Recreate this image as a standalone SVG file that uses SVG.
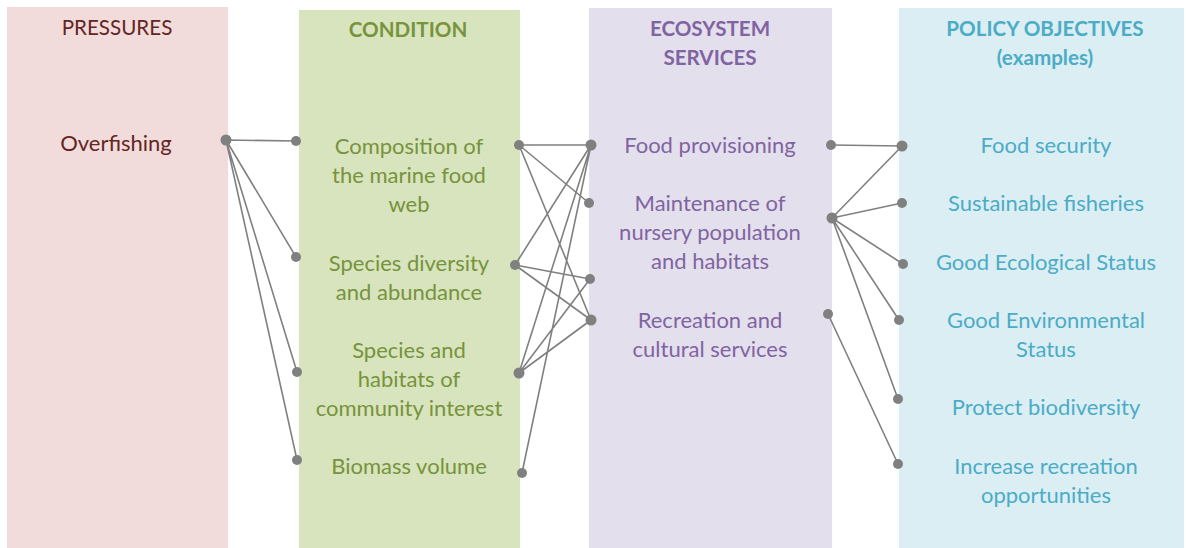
<svg xmlns="http://www.w3.org/2000/svg" width="1186" height="548" viewBox="0 0 1186 548">
<style>
text{font-family:Lato,"Open Sans","Liberation Sans",sans-serif;font-size:22px;text-anchor:middle}
.h{font-size:20.6px}
.b{font-weight:bold}
.pr{fill:#632523}.co{fill:#77933c}.es{fill:#8064a2}.po{fill:#4bacc6}
.ln{stroke:#808080;stroke-width:1.6;fill:none}
.d{fill:#808080}
</style>
<rect width="1186" height="548" fill="#ffffff"/>
<g id="col-pressures"><rect x="7" y="7" width="221" height="541" fill="#f2dcdb"/><text class="pr h" x="117" y="35">PRESSURES</text></g>
<g id="col-condition"><rect x="299" y="10" width="221" height="538" fill="#d7e4bd"/><text class="co b h" x="408" y="37">CONDITION</text></g>
<g id="col-services"><rect x="589" y="8" width="243" height="540" fill="#e4dfec"/><text class="es b h" x="710" y="36">ECOSYSTEM</text><text class="es b h" x="710" y="65">SERVICES</text></g>
<g id="col-policy"><rect x="899" y="8" width="285" height="540" fill="#dbeef4"/><text class="po b h" x="1045" y="36">POLICY OBJECTIVES</text><text class="po b h" x="1045" y="65">(examples)</text></g>
<g id="n-overfishing"><text class="pr" x="116" y="151">Overfishing</text></g>
<g id="n-composition"><text class="co" x="409" y="154">Composition of</text><text class="co" x="409" y="183">the marine food</text><text class="co" x="409" y="212">web</text></g>
<g id="n-diversity"><text class="co" x="409" y="271">Species diversity</text><text class="co" x="409" y="300">and abundance</text></g>
<g id="n-habitats"><text class="co" x="409" y="358">Species and</text><text class="co" x="409" y="387">habitats of</text><text class="co" x="409" y="416">community interest</text></g>
<g id="n-biomass"><text class="co" x="409" y="474">Biomass volume</text></g>
<g id="n-food"><text class="es" x="710" y="153">Food provisioning</text></g>
<g id="n-nursery"><text class="es" x="710" y="211">Maintenance of</text><text class="es" x="710" y="240">nursery population</text><text class="es" x="710" y="269">and habitats</text></g>
<g id="n-recreation"><text class="es" x="710" y="328">Recreation and</text><text class="es" x="710" y="357">cultural services</text></g>
<g id="n-foodsec"><text class="po" x="1046" y="153">Food security</text></g>
<g id="n-fisheries"><text class="po" x="1046" y="211">Sustainable fisheries</text></g>
<g id="n-ges-eco"><text class="po" x="1046" y="270">Good Ecological Status</text></g>
<g id="n-ges-env"><text class="po" x="1046" y="328">Good Environmental</text><text class="po" x="1046" y="357">Status</text></g>
<g id="n-biodiv"><text class="po" x="1046" y="415">Protect biodiversity</text></g>
<g id="n-recopp"><text class="po" x="1046" y="474">Increase recreation</text><text class="po" x="1046" y="503">opportunities</text></g>
<g id="connectors">
<path class="ln" d="M226 140L296 141M226 140L296 257M226 140L297 372M226 140L297 460"/>
<path class="ln" d="M519 145L591 145M519 145L589 203M519 145L591 320M591 145L515 265M591 145L519 373M591 145L522 473M515 265L590 279M515 265L591 320M519 373L590 279M519 373L591 320"/>
<path class="ln" d="M831 145L902 146M832 218L902 146M832 218L902 203M832 218L903 264M832 218L899 320M832 218L898 399M828 314L898 464"/>
<g class="d">
<circle cx="226" cy="140" r="5.5"/><circle cx="296" cy="141" r="5"/><circle cx="296" cy="257" r="5"/><circle cx="297" cy="372" r="5"/><circle cx="297" cy="460" r="5"/>
<circle cx="519" cy="145" r="5"/><circle cx="515" cy="265" r="5"/><circle cx="519" cy="373" r="5.5"/><circle cx="522" cy="473" r="5"/>
<circle cx="591" cy="145" r="5.5"/><circle cx="589" cy="203" r="5"/><circle cx="590" cy="279" r="5"/><circle cx="591" cy="320" r="5.5"/>
<circle cx="831" cy="145" r="5"/><circle cx="832" cy="218" r="5.5"/><circle cx="828" cy="314" r="5"/>
<circle cx="902" cy="146" r="5.5"/><circle cx="902" cy="203" r="5"/><circle cx="903" cy="264" r="5"/><circle cx="899" cy="320" r="5"/><circle cx="898" cy="399" r="5"/><circle cx="898" cy="464" r="5"/>
</g>
</g>
</svg>
